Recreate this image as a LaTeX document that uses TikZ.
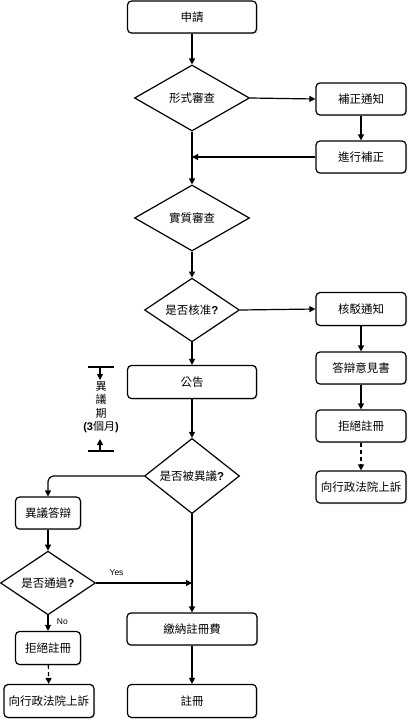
\documentclass[tikz,border=0pt]{standalone}
\usepackage{fontspec}
\setmainfont{Liberation Sans}
\setsansfont{Liberation Sans}
\newfontfamily\cjk{Noto Sans CJK TC}
\usetikzlibrary{shapes.geometric,arrows.meta,shadows}
\begin{document}
\begin{tikzpicture}[x=1pt,y=-1pt,
  every node/.style={font=\cjk\fontsize{11.5}{13}\selectfont},
  box/.style={draw,line width=1.2pt,rounded corners=4pt,fill=white,inner sep=0pt,
    drop shadow={shadow xshift=1.2pt,shadow yshift=-1.2pt,opacity=0.35,fill=gray}},
  dia/.style={draw,line width=1.2pt,diamond,fill=white,inner sep=0pt},
  conn/.style={line width=1.2pt,-{Triangle[length=6pt,width=6pt]}},
  dconn/.style={conn,dashed,dash pattern=on 4pt off 3pt},
  lbl/.style={font=\sffamily\fontsize{8.5}{10}\selectfont}
]
\useasboundingbox (0,0) rectangle (415,720);
% main column
\node[box,minimum width=129pt,minimum height=32pt] (shen) at (192,17) {申請};
\node[dia,minimum width=115pt,minimum height=66pt] (d1) at (192,98) {形式審查};
\node[box,minimum width=90pt,minimum height=32pt] (bz) at (361,99) {補正通知};
\node[box,minimum width=90pt,minimum height=32pt] (jx) at (361,157) {進行補正};
\node[dia,minimum width=115pt,minimum height=66pt] (d2) at (192,218) {實質審查};
\node[dia,minimum width=95pt,minimum height=56pt] (d3) at (192,310) {是否核准{\sffamily\bfseries ?}};
\node[box,minimum width=90pt,minimum height=33pt] (hb) at (361,309) {核駁通知};
\node[box,minimum width=90pt,minimum height=32pt] (dy) at (361,368) {答辯意見書};
\node[box,minimum width=90pt,minimum height=32pt] (jj1) at (361,426) {拒絕註冊};
\node[box,minimum width=90pt,minimum height=32pt] (sf1) at (361,487) {向行政法院上訴};
\node[box,minimum width=129pt,minimum height=33pt] (gg) at (192,382) {公告};
\node[dia,minimum width=95pt,minimum height=54pt] (d4) at (192,476) {是否被異議{\sffamily\bfseries ?}};
\node[box,minimum width=65pt,minimum height=32pt] (yd) at (48,513) {異議答辯};
\node[dia,minimum width=95pt,minimum height=54pt] (d5) at (48,583) {是否通過{\sffamily\bfseries ?}};
\node[box,minimum width=65pt,minimum height=33pt] (jj2) at (48,648) {拒絕註冊};
\node[box,minimum width=90pt,minimum height=33pt] (sf2) at (49,701) {向行政法院上訴};
\node[box,minimum width=130pt,minimum height=32pt] (jn) at (192,629) {繳納註冊費};
\node[box,minimum width=129pt,minimum height=33pt] (zc) at (192,701) {註冊};
\coordinate (m1) at (192,157);
\coordinate (m2) at (192,583);
% connectors
\draw[conn] (shen) -- (d1);
\draw[conn] (d1.east) -- (bz.west);
\draw[conn] (bz) -- (jx);
\draw[conn] (jx.west) -- (m1);
\draw[conn] (d1.south) -- (d2.north);
\draw[conn] (d2.south) -- (d3.north);
\draw[conn] (d3.east) -- (hb.west);
\draw[conn] (hb) -- (dy);
\draw[conn] (dy) -- (jj1);
\draw[dconn] (jj1) -- (sf1);
\draw[conn] (d3.south) -- (gg.north);
\draw[conn] (gg.south) -- (d4.north);
\draw[conn,rounded corners=6pt] (d4.west) -| (yd.north);
\draw[conn] (yd) -- (d5.north);
\draw[conn] (d5.east) -- node[pos=0.1,above=3pt,anchor=south west,lbl]{Yes} (m2);
\draw[conn] (d4.south) -- (jn.north);
\draw[conn] (d5.south) -- node[right=5pt,pos=0.4,lbl]{No} (jj2.north);
\draw[dconn] (jj2) -- (sf2);
\draw[conn] (jn) -- (zc);
% objection period bracket
\coordinate (bt1) at (88,367); \coordinate (bt2) at (114,367);
\coordinate (bb1) at (88,451); \coordinate (bb2) at (114,451);
\coordinate (at) at (100,367); \coordinate (ate) at (100,380);
\coordinate (ab) at (100,451); \coordinate (abe) at (100,439);
\draw[line width=1.2pt] (bt1) -- (bt2);
\draw[line width=1.2pt] (bb1) -- (bb2);
\draw[conn] (at) -- (ate);
\draw[conn] (ab) -- (abe);
\node[align=center,inner sep=0pt,font=\cjk\fontsize{11}{13.5}\selectfont] (yyq) at (101,407) {異\\議\\期\\{\sffamily\bfseries (3}個月{\sffamily\bfseries )}};
\end{tikzpicture}
\end{document}
